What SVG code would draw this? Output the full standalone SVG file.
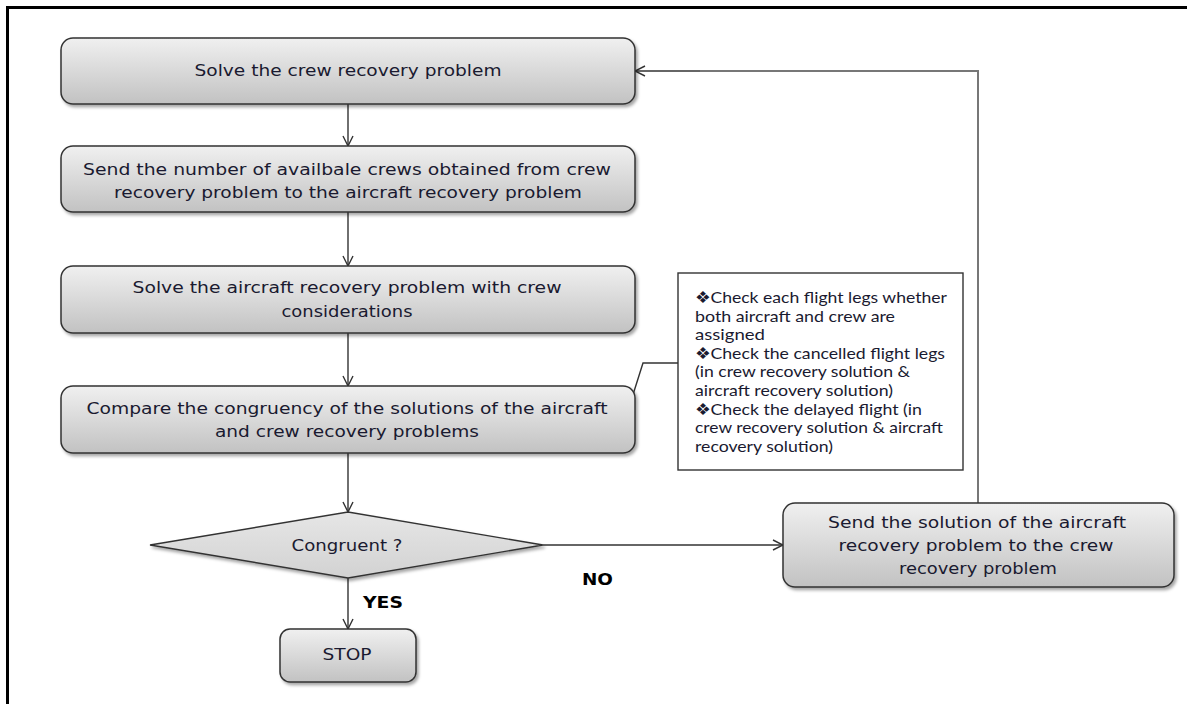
<svg xmlns="http://www.w3.org/2000/svg" width="1187" height="704" viewBox="0 0 1187 704">
  <defs>
    <linearGradient id="boxFill" x1="0" y1="0" x2="0" y2="1">
      <stop offset="0" stop-color="#f0f0f0"/>
      <stop offset="1" stop-color="#c2c2c2"/>
    </linearGradient>
    <linearGradient id="diaFill" x1="0" y1="0" x2="0" y2="1">
      <stop offset="0" stop-color="#e6e6e6"/>
      <stop offset="1" stop-color="#d2d2d2"/>
    </linearGradient>
    <filter id="shadow" x="-5%" y="-10%" width="115%" height="130%">
      <feDropShadow dx="2" dy="2.5" stdDeviation="1.5" flood-color="#000" flood-opacity="0.35"/>
    </filter>
    <marker id="arrow" viewBox="0 0 12 12" refX="11" refY="6" markerWidth="12" markerHeight="12" markerUnits="userSpaceOnUse" orient="auto">
      <path d="M1,1 L11,6 L1,11" fill="none" stroke="#333" stroke-width="1.4"/>
    </marker>
  </defs>
  <style>
    .box { fill: url(#boxFill); stroke: #333; stroke-width: 1.5; filter: url(#shadow); }
    .dia { fill: url(#diaFill); stroke: #333; stroke-width: 1.4; filter: url(#shadow); }
    .note { fill: #fff; stroke: #333; stroke-width: 1.4; }
    .t { font-family: "DejaVu Sans", Verdana, sans-serif; font-size: 15.5px; fill: #1a1a30; text-anchor: middle; }
    .n { font-family: Lato, "Liberation Sans", sans-serif; font-size: 16px; fill: #1a1a30; }
    .lbl { font-family: "DejaVu Sans", Verdana, sans-serif; font-size: 15px; font-weight: bold; fill: #000; }
    .c { fill: none; stroke: #333; stroke-width: 1.4; }
    .ret { fill: none; stroke: #777; stroke-width: 2; }
  </style>

  <rect width="1187" height="704" fill="#fff"/>
  <!-- page frame, open to the right and bottom -->
  <path d="M7.5,704 V7.5 H1187" fill="none" stroke="#000" stroke-width="3"/>

  <g id="connectors">
    <line class="c" x1="348" y1="104" x2="348" y2="146" marker-end="url(#arrow)"/>
    <line class="c" x1="348" y1="212" x2="348" y2="266" marker-end="url(#arrow)"/>
    <line class="c" x1="348" y1="333" x2="348" y2="386" marker-end="url(#arrow)"/>
    <line class="c" x1="348" y1="453" x2="348" y2="512" marker-end="url(#arrow)"/>
    <line class="c" x1="348" y1="578" x2="348" y2="629" marker-end="url(#arrow)"/>
    <line class="c" x1="543" y1="545" x2="783" y2="545" marker-end="url(#arrow)"/>
    <path class="ret" d="M978,503 V71 H700"/>
    <line class="c" x1="700" y1="71" x2="635" y2="71" marker-end="url(#arrow)"/>
    <!-- callout from note to the compare step -->
    <path class="c" d="M678,363 H643 L618,442"/>
  </g>

  <g id="solve-crew">
    <rect class="box" x="61" y="38" width="574" height="66" rx="12"/>
    <text class="t" x="348" y="76" textLength="307" lengthAdjust="spacingAndGlyphs">Solve the  crew recovery problem</text>
  </g>

  <g id="send-crews">
    <rect class="box" x="61" y="146" width="574" height="66" rx="12"/>
    <text class="t" x="347" y="175" textLength="528" lengthAdjust="spacingAndGlyphs">Send the  number  of  availbale crews  obtained  from  crew</text>
    <text class="t" x="348" y="198" textLength="468" lengthAdjust="spacingAndGlyphs">recovery problem  to  the  aircraft recovery problem</text>
  </g>

  <g id="solve-aircraft">
    <rect class="box" x="61" y="266" width="574" height="67" rx="12"/>
    <text class="t" x="347" y="293" textLength="429" lengthAdjust="spacingAndGlyphs">Solve the  aircraft recovery problem  with  crew</text>
    <text class="t" x="347" y="317" textLength="131" lengthAdjust="spacingAndGlyphs">considerations</text>
  </g>

  <g id="compare">
    <rect class="box" x="61" y="386" width="574" height="67" rx="12"/>
    <text class="t" x="347" y="414" textLength="521" lengthAdjust="spacingAndGlyphs">Compare the  congruency  of the  solutions  of the  aircraft</text>
    <text class="t" x="347" y="437" textLength="264" lengthAdjust="spacingAndGlyphs">and crew recovery problems</text>
  </g>

  <g id="checks">
    <rect class="note" x="678" y="273" width="285" height="197"/>
    <text class="n" x="695" y="303" textLength="252" lengthAdjust="spacingAndGlyphs">❖Check each flight legs  whether</text>
    <text class="n" x="695" y="322" textLength="200" lengthAdjust="spacingAndGlyphs">both aircraft and crew are</text>
    <text class="n" x="695" y="340" textLength="70" lengthAdjust="spacingAndGlyphs">assigned</text>
    <text class="n" x="695" y="359" textLength="250" lengthAdjust="spacingAndGlyphs">❖Check the cancelled flight legs</text>
    <text class="n" x="695" y="377" textLength="215" lengthAdjust="spacingAndGlyphs">(in crew recovery solution &amp;</text>
    <text class="n" x="695" y="396" textLength="198" lengthAdjust="spacingAndGlyphs">aircraft recovery solution)</text>
    <text class="n" x="695" y="415" textLength="227" lengthAdjust="spacingAndGlyphs">❖Check the delayed flight (in</text>
    <text class="n" x="695" y="433" textLength="248" lengthAdjust="spacingAndGlyphs">crew recovery solution &amp; aircraft</text>
    <text class="n" x="695" y="452" textLength="138" lengthAdjust="spacingAndGlyphs">recovery solution)</text>
  </g>

  <g id="congruent">
    <polygon class="dia" points="150,545 348,512 543,545 348,578"/>
    <text class="t" x="347" y="551" textLength="111" lengthAdjust="spacingAndGlyphs">Congruent ?</text>
  </g>

  <g id="stop">
    <rect class="box" x="280" y="629" width="136" height="53" rx="10"/>
    <text class="t" x="347" y="660" textLength="49" lengthAdjust="spacingAndGlyphs">STOP</text>
  </g>

  <g id="send-solution">
    <rect class="box" x="783" y="503" width="391" height="84" rx="12"/>
    <text class="t" x="977" y="528" textLength="298" lengthAdjust="spacingAndGlyphs">Send the  solution  of the  aircraft</text>
    <text class="t" x="976" y="551" textLength="275" lengthAdjust="spacingAndGlyphs">recovery problem  to  the  crew</text>
    <text class="t" x="978" y="574" textLength="158" lengthAdjust="spacingAndGlyphs">recovery problem</text>
  </g>

  <g id="labels">
    <text class="lbl" x="363" y="608" textLength="40" lengthAdjust="spacingAndGlyphs">YES</text>
    <text class="lbl" x="582" y="585" textLength="31" lengthAdjust="spacingAndGlyphs">NO</text>
  </g>
</svg>
